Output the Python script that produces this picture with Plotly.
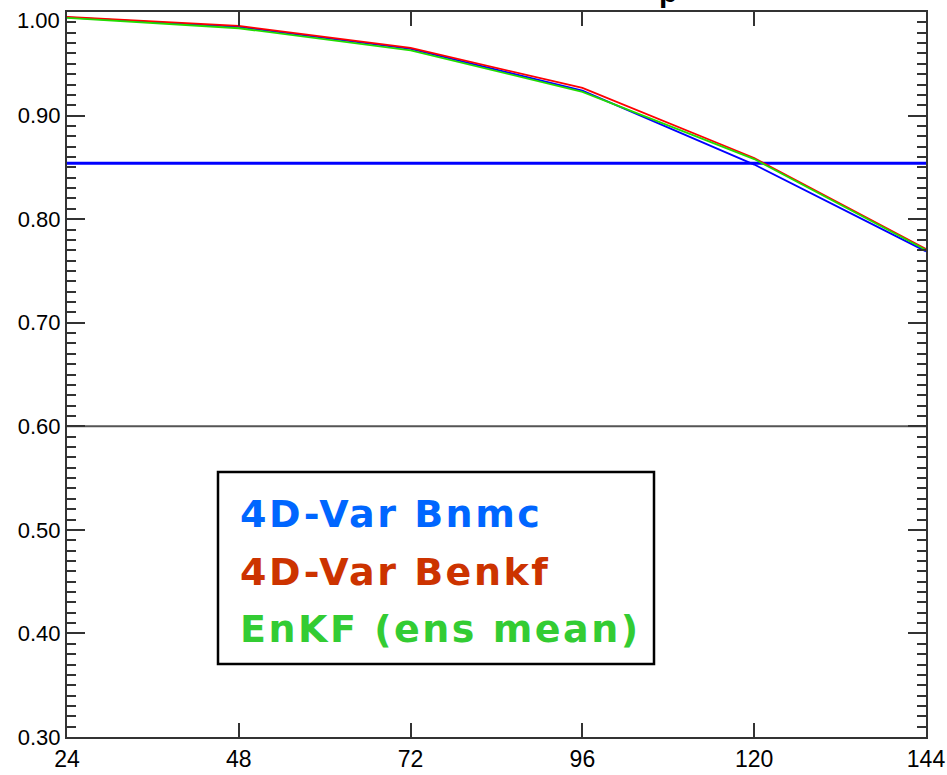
import plotly.graph_objects as go

# ---- data ----
lead_hours = [24, 48, 72, 96, 120, 144]
bnmc = [0.9948, 0.9856, 0.9644, 0.9241, 0.8527, 0.7689]
benkf = [0.9953, 0.9866, 0.9653, 0.9267, 0.8590, 0.7712]
enkf = [0.9943, 0.9843, 0.9630, 0.9229, 0.8580, 0.7703]
ref_x = [24, 144]
ref_level = [0.854, 0.854]
base_level = [0.60, 0.60]
legend_labels = ["4D-Var Bnmc", "4D-Var Benkf", "EnKF (ens mean)"]
legend_colors = ["#0066ff", "#cc3300", "#33cc33"]
x_ticks = [24, 48, 72, 96, 120, 144]
y_ticks = [0.30, 0.40, 0.50, 0.60, 0.70, 0.80, 0.90, 1.00]

W, H = 947, 775
L, R, T, B = 67, 21, 12, 38
pw, ph = W - L - R, H - T - B

def px(xp):
    return (xp - L) / pw

def py(yp):
    return (H - B - yp) / ph

FONT = "Liberation Sans, Arial, sans-serif"
LFONT = "DejaVu Sans, sans-serif"

fig = go.Figure()
fig.add_trace(go.Scatter(x=ref_x, y=base_level, mode="lines",
                         line=dict(color="#555555", width=2), showlegend=False))
fig.add_trace(go.Scatter(x=ref_x, y=ref_level, mode="lines",
                         line=dict(color="#0000ff", width=3), showlegend=False))
fig.add_trace(go.Scatter(x=lead_hours, y=bnmc, mode="lines",
                         line=dict(color="#0000ff", width=1.8), name=legend_labels[0], showlegend=False))
fig.add_trace(go.Scatter(x=lead_hours, y=benkf, mode="lines",
                         line=dict(color="#ff0000", width=1.8), name=legend_labels[1], showlegend=False))
fig.add_trace(go.Scatter(x=lead_hours, y=enkf, mode="lines",
                         line=dict(color="#22dd00", width=1.8), name=legend_labels[2], showlegend=False))

# legend box
fig.add_shape(type="rect", xref="paper", yref="paper",
              x0=px(218), x1=px(654), y0=py(664), y1=py(472),
              line=dict(color="black", width=2.5), fillcolor="white", layer="above")

baselines = [528, 586, 643]
for lab, col, bl in zip(legend_labels, legend_colors, baselines):
    fig.add_annotation(xref="paper", yref="paper", x=px(238), y=py(bl - 14),
                       xanchor="left", yanchor="middle", showarrow=False,
                       text="<span style='letter-spacing:2.5px'><b>" + lab + "</b></span>",
                       font=dict(family=LFONT, size=38, color=col))

# clipped title fragment at the top
fig.add_annotation(xref="paper", yref="paper", x=px(657), y=py(10),
                   xanchor="left", yanchor="bottom", showarrow=False,
                   text="<b>p</b>", font=dict(family=FONT, size=30, color="black"))

# top y label is nudged down into the canvas, as in the reference
y_text = ["%.2f" % v for v in y_ticks]
fig.add_annotation(xref="paper", yref="paper", x=px(62), y=py(20.5),
                   xanchor="right", yanchor="middle", showarrow=False,
                   text=y_text[-1], font=dict(family=FONT, size=22, color="black"))
y_text_axis = y_text[:-1] + [""]

fig.update_xaxes(range=[24, 144], tickvals=x_ticks, ticktext=[str(v) for v in x_ticks],
                 ticks="inside", ticklen=14, tickwidth=1.5, tickcolor="#333",
                 showline=True, linecolor="#333", linewidth=2, mirror="allticks",
                 showgrid=False, zeroline=False, automargin=False,
                 ticklabeloverflow="allow",
                 tickfont=dict(family=FONT, size=23, color="black"))
fig.update_yaxes(range=[0.30, 1.00], tickvals=y_ticks, ticktext=y_text_axis,
                 ticks="inside", ticklen=18, tickwidth=1.5, tickcolor="#333",
                 minor=dict(dtick=0.01, ticks="inside", ticklen=9, tickwidth=1.5, tickcolor="#333"),
                 showline=True, linecolor="#333", linewidth=2, mirror="allticks",
                 showgrid=False, zeroline=False, automargin=False,
                 ticklabeloverflow="allow",
                 tickfont=dict(family=FONT, size=22, color="black"))

fig.update_layout(width=W, height=H, margin=dict(l=L, r=R, t=T, b=B),
                  plot_bgcolor="white", paper_bgcolor="white", showlegend=False)

fig.write_html("out.html")
